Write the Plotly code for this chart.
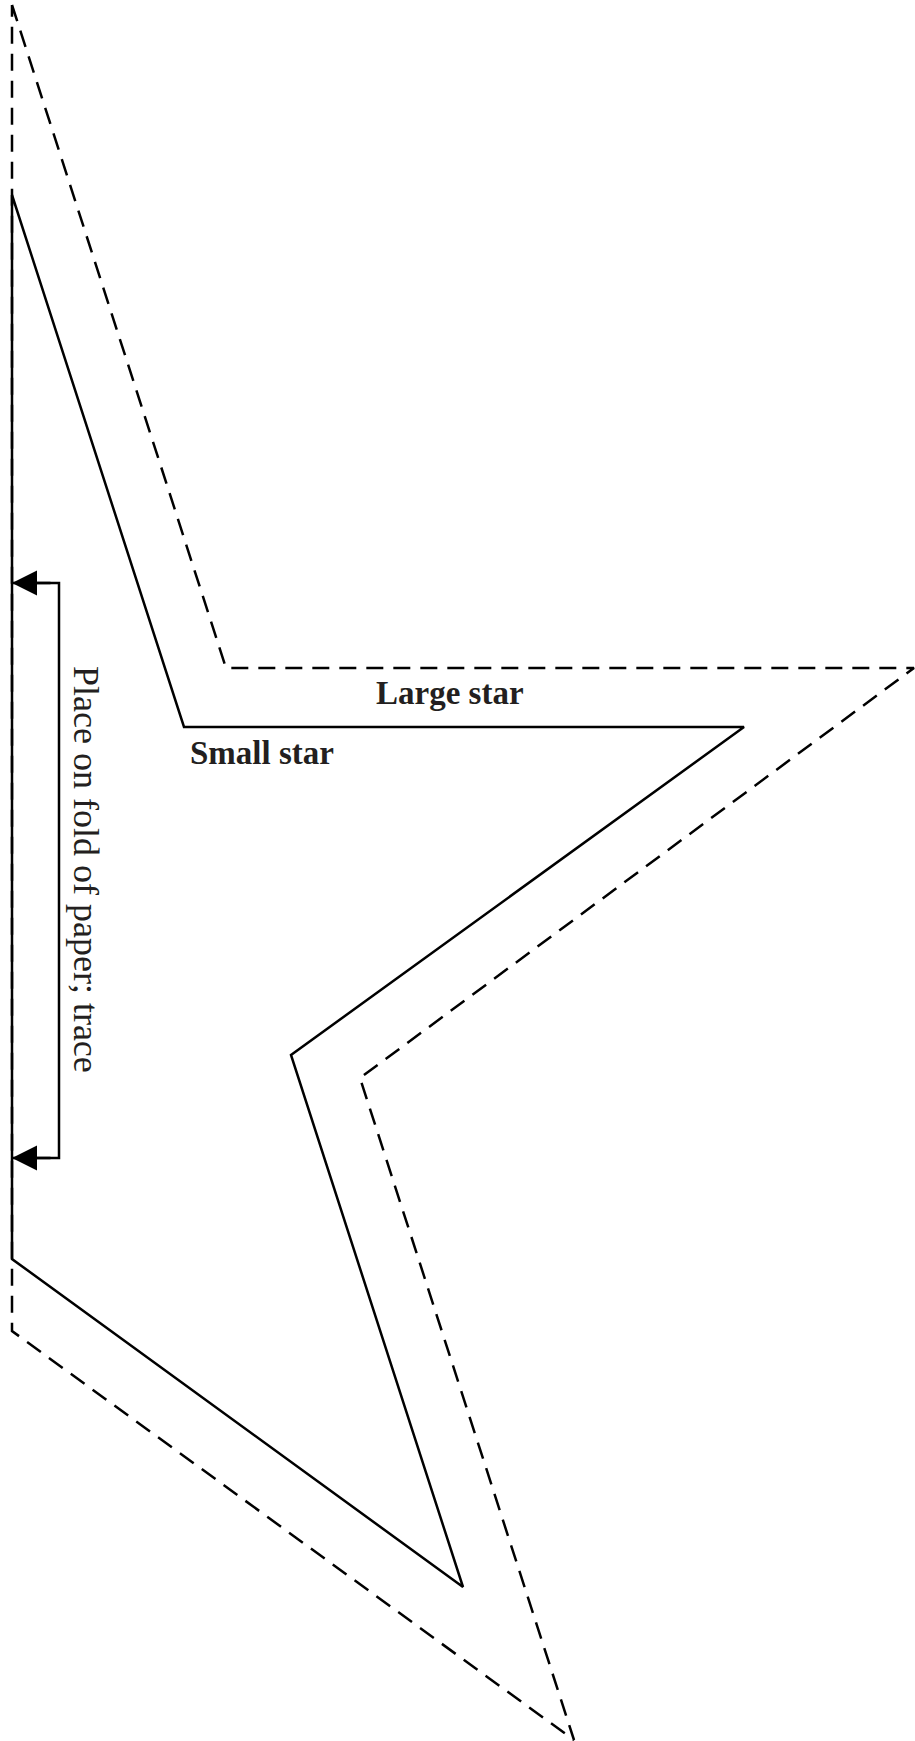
import plotly.graph_objects as go

# Star outlines (half stars; left edge is the fold line), page pixel units
small_star_x = [12, 184, 744, 291, 463, 12, 12]
small_star_y = [195, 727, 727, 1055, 1587, 1259, 195]
large_star_x = [12, 226, 914, 360, 574, 12, 12]
large_star_y = [5, 668, 668, 1078, 1740, 1331, 5]

# Fold bracket
bracket_x = [12, 59, 59, 12]
bracket_y = [583, 583, 1158, 1158]

# Labels
label_texts = ["Large star", "Small star"]
label_x = [450, 262]
label_y = [693, 753]
fold_text = "Place on fold of paper; trace"
fold_text_x = 86
fold_text_y = 869

W, H = 915, 1741
TEXT_COLOR = "#231f20"

fig = go.Figure()
fig.add_trace(go.Scatter(x=large_star_x, y=large_star_y, mode="lines",
                         line=dict(color="black", width=2.5, dash="17px,10px"),
                         hoverinfo="skip", showlegend=False))
fig.add_trace(go.Scatter(x=small_star_x, y=small_star_y, mode="lines",
                         line=dict(color="black", width=2.5),
                         hoverinfo="skip", showlegend=False))
fig.add_trace(go.Scatter(x=bracket_x, y=bracket_y, mode="lines",
                         line=dict(color="black", width=2.5),
                         hoverinfo="skip", showlegend=False))

annotations = []
# arrowheads at the fold ends of the bracket
for i in (0, 3):
    annotations.append(dict(x=bracket_x[i], y=bracket_y[i], ax=bracket_x[i] + 40, ay=bracket_y[i],
                            xref="x", yref="y", axref="x", ayref="y", text="",
                            showarrow=True, arrowhead=2, arrowsize=2, arrowwidth=2.5,
                            arrowcolor="black", standoff=0))
for t, x, y in zip(label_texts, label_x, label_y):
    annotations.append(dict(x=x, y=y, xref="x", yref="y", text=t, showarrow=False,
                            xanchor="center", yanchor="middle",
                            font=dict(family="Liberation Serif", size=33, color=TEXT_COLOR,
                                      weight="bold")))
annotations.append(dict(x=fold_text_x, y=fold_text_y, xref="x", yref="y", text=fold_text,
                        showarrow=False, textangle=90, xanchor="center", yanchor="middle",
                        font=dict(family="Liberation Serif", size=36, color=TEXT_COLOR)))

fig.update_layout(
    width=W, height=H,
    margin=dict(l=0, r=0, t=0, b=0),
    paper_bgcolor="white", plot_bgcolor="white",
    xaxis=dict(range=[0, W], visible=False, fixedrange=True),
    yaxis=dict(range=[H, 0], visible=False, fixedrange=True),
    annotations=annotations,
    showlegend=False,
)

fig.write_html("out.html", config={"displayModeBar": False, "staticPlot": True},
               post_script="document.body.style.margin='0';")
